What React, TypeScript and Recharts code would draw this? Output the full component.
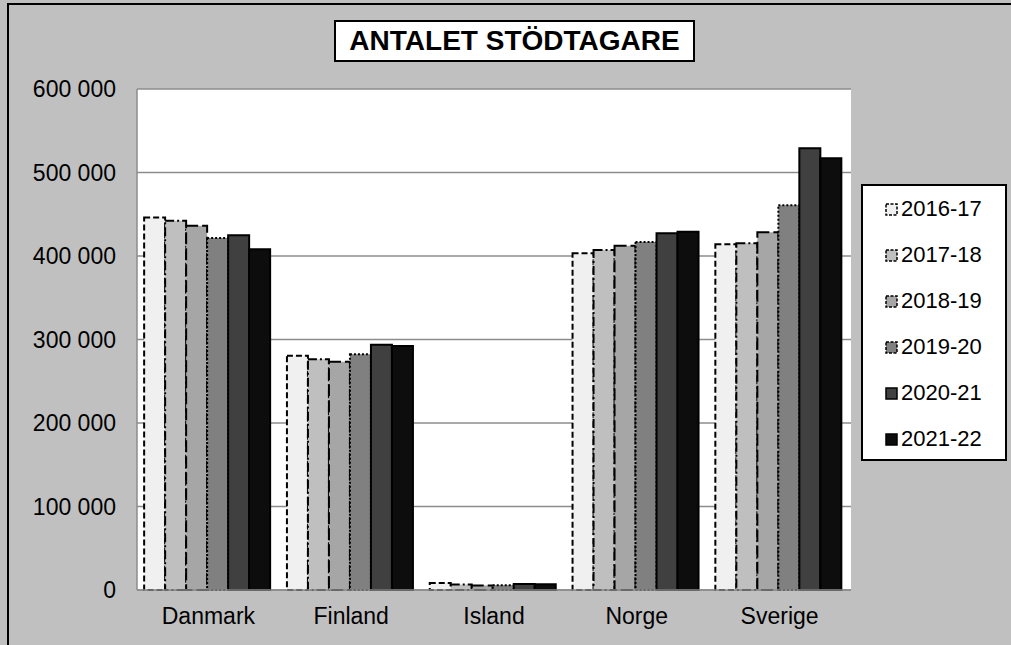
import { BarChart, Bar, XAxis, YAxis, CartesianGrid, Legend } from 'recharts';

const categories = ['Danmark', 'Finland', 'Island', 'Norge', 'Sverige'];
const s2016_17 = [446000, 280600, 8500, 403200, 414000];
const s2017_18 = [442300, 276300, 6500, 407200, 415200];
const s2018_19 = [436300, 273400, 5500, 412300, 428400];
const s2019_20 = [421600, 282300, 5800, 416800, 460700];
const s2020_21 = [424800, 293800, 7200, 427200, 529000];
const s2021_22 = [408000, 292200, 7000, 429100, 517000];
const yTicks = [0, 100000, 200000, 300000, 400000, 500000, 600000];

const series = [
  { key: '2016-17', values: s2016_17, fill: '#f0f0f0', dash: '6 3' },
  { key: '2017-18', values: s2017_18, fill: '#bfbfbf', dash: '9 3 2 3' },
  { key: '2018-19', values: s2018_19, fill: '#a6a6a6', dash: '12 4' },
  { key: '2019-20', values: s2019_20, fill: '#808080', dash: '2 2' },
  { key: '2020-21', values: s2020_21, fill: '#404040', dash: undefined },
  { key: '2021-22', values: s2021_22, fill: '#0d0d0d', dash: undefined },
];

const data = categories.map((name, i) => {
  const row: { [k: string]: string | number } = { name };
  series.forEach((s) => {
    row[s.key] = s.values[i];
  });
  return row;
});

const font = '"Liberation Sans", Arial, sans-serif';

const fmt = (v: number) => String(v).replace(/\B(?=(\d{3})+(?!\d))/g, ' ');

function LegendBox() {
  return (
    <div
      style={{
        boxSizing: 'border-box',
        width: 146,
        height: 277,
        background: '#fff',
        border: '2px solid #000',
        fontFamily: font,
        fontSize: 22,
        color: '#000',
        paddingTop: 0,
      }}
    >
      {series.map((s) => (
        <div key={s.key} style={{ display: 'flex', alignItems: 'center', height: 46, paddingLeft: 22 }}>
          <svg width={13} height={13} style={{ marginRight: 3 }}>
            <rect
              x={1}
              y={1}
              width={11}
              height={11}
              fill={s.fill}
              stroke="#000"
              strokeWidth={1.5}
              strokeDasharray={s.dash ? '3 1.5' : undefined}
            />
          </svg>
          <span>{s.key}</span>
        </div>
      ))}
    </div>
  );
}

export default function App() {
  return (
    <div style={{ position: 'absolute', left: 0, top: 0, width: 1011, height: 645, overflow: 'hidden', background: '#c0c0c0' }}>
      <div
        style={{
          position: 'absolute',
          left: 7,
          top: 3,
          width: 1100,
          height: 1000,
          border: '2px solid #000',
          background: '#c0c0c0',
        }}
      />
      <div style={{ position: 'absolute', left: 0, top: 0 }}>
        <BarChart
          width={1011}
          height={645}
          data={data}
          margin={{ top: 89, right: 14, bottom: 0, left: 0 }}
          barCategoryGap="5%"
          barGap={0}
        >
          <CartesianGrid vertical={false} stroke="#8c8c8c" strokeWidth={1.5} fill="#ffffff" />
          <XAxis
            dataKey="name"
            height={55}
            tickSize={0}
            tickMargin={18}
            axisLine={{ stroke: '#8c8c8c', strokeWidth: 1.5 }}
            tick={{ fill: '#000', fontSize: 23, fontFamily: font }}
          />
          <YAxis
            width={137}
            domain={[0, 600000]}
            ticks={yTicks}
            tickFormatter={fmt}
            tickSize={0}
            tickMargin={21}
            axisLine={{ stroke: '#8c8c8c', strokeWidth: 1.5 }}
            tick={{ fill: '#000', fontSize: 23, fontFamily: font }}
            interval={0}
          />
          <YAxis
            yAxisId="r"
            orientation="right"
            width={0}
            domain={[0, 600000]}
            tick={false}
            tickLine={false}
            axisLine={{ stroke: '#8c8c8c', strokeWidth: 1.5 }}
          />
          <Legend
            layout="vertical"
            align="right"
            verticalAlign="middle"
            content={() => <LegendBox />}
            wrapperStyle={{ left: 861, top: 184, right: 'auto', bottom: 'auto', width: 146, height: 277 }}
          />
          {series.map((s) => (
            <Bar
              key={s.key}
              dataKey={s.key}
              fill={s.fill}
              stroke="#000"
              strokeWidth={2}
              strokeDasharray={s.dash}
              isAnimationActive={false}
            />
          ))}
        </BarChart>
      </div>
      <div
        style={{
          position: 'absolute',
          left: 334,
          top: 20,
          width: 361,
          height: 42,
          boxSizing: 'border-box',
          border: '2px solid #000',
          background: '#fff',
          fontFamily: font,
          fontWeight: 'bold',
          fontSize: 28,
          display: 'flex',
          alignItems: 'center',
          justifyContent: 'center',
        }}
      >
        ANTALET STÖDTAGARE
      </div>
    </div>
  );
}
